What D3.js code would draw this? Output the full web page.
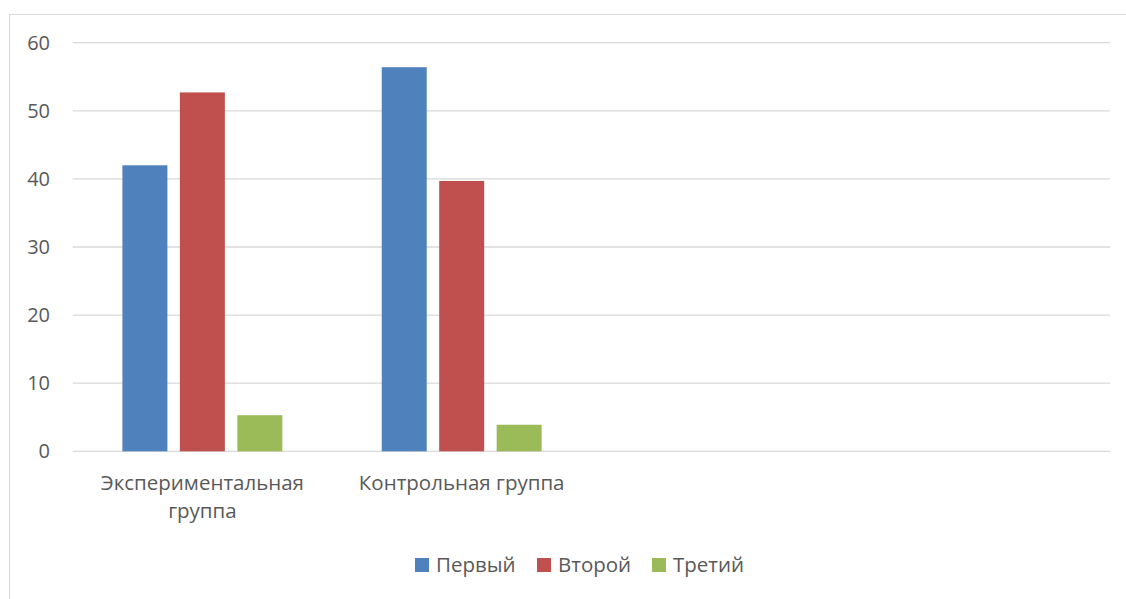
<!DOCTYPE html>
<html>
<head>
<meta charset="utf-8">
<script src="https://cdn.jsdelivr.net/npm/d3@7"></script>
<style>
  body { margin: 0; background: #fff; }
  text { font-family: "Open Sans", "DejaVu Sans", sans-serif; fill: #595959; }
</style>
</head>
<body>
<script>
// chart data
const categories = ["Экспериментальная группа", "Контрольная группа", "", " "];
const seriesNames = ["Первый", "Второй", "Третий"];
const firstValues = [42.0, 56.4];
const secondValues = [52.7, 39.7];
const thirdValues = [5.3, 3.9];
const yTicks = [0, 10, 20, 30, 40, 50, 60];
const colors = ["#4F81BD", "#C0504D", "#9BBB59"];

let width = 1126;
let height = 599;
let svg = d3.select("body").append("svg")
            .attr("width", width)
            .attr("height", height);

// outer chart frame
svg.append("rect")
   .attr("x", 9.5).attr("y", 14.5)
   .attr("width", 1130).attr("height", 600)
   .attr("fill", "#fff")
   .attr("stroke", "#d9d9d9");

let margin = {left: 72.7, right: 1110, top: 42.7, bottom: 451.3};

let x = d3.scaleBand()
          .domain(categories)
          .range([margin.left, margin.right]);

let y = d3.scaleLinear()
          .domain([0, 60])
          .range([margin.bottom, margin.top]);

// gridlines
svg.append("g").selectAll("line")
   .data(yTicks)
   .enter().append("line")
   .attr("x1", margin.left).attr("x2", margin.right)
   .attr("y1", d => y(d)).attr("y2", d => y(d))
   .attr("stroke", "#d9d9d9")
   .attr("stroke-width", 1.3);

// y tick labels
svg.append("g").selectAll("text")
   .data(yTicks)
   .enter().append("text")
   .attr("x", 50)
   .attr("y", d => y(d))
   .attr("dy", "0.35em")
   .attr("text-anchor", "end")
   .attr("font-size", 20)
   .text(d => d);

// bars
let series = [firstValues, secondValues, thirdValues];
let inner = d3.scaleBand()
              .domain(d3.range(series.length))
              .range([0, x.bandwidth()])
              .paddingInner(0.217)
              .paddingOuter(0.865);

let rows = [];
series.forEach((vals, s) => {
  vals.forEach((v, i) => rows.push({cat: categories[i], s: s, v: v}));
});

svg.append("g").selectAll("rect")
   .data(rows)
   .enter().append("rect")
   .attr("x", d => x(d.cat) + inner(d.s))
   .attr("width", inner.bandwidth())
   .attr("y", d => y(d.v))
   .attr("height", d => y(0) - y(d.v))
   .attr("fill", d => colors[d.s]);

// category labels (wrap long ones)
let catLabels = svg.append("g").selectAll("text")
   .data(categories.filter(c => c.trim() !== ""))
   .enter().append("text")
   .attr("text-anchor", "middle")
   .attr("font-size", 20.5)
   .attr("x", d => x(d) + x.bandwidth() / 2)
   .attr("y", 490);

catLabels.each(function(d) {
  let t = d3.select(this);
  let lines = d.length > 20 ? d.split(" ") : [d];
  lines.forEach((ln, i) => {
    t.append("tspan")
     .attr("x", x(d) + x.bandwidth() / 2)
     .attr("dy", i === 0 ? 0 : 28)
     .text(ln);
  });
});

// legend
let legendX = [415, 537, 652];
let legend = svg.append("g").selectAll("g")
   .data(seriesNames)
   .enter().append("g")
   .attr("transform", (d, i) => `translate(${legendX[i]},558)`);

legend.append("rect")
      .attr("width", 14).attr("height", 14)
      .attr("fill", (d, i) => colors[i]);

legend.append("text")
      .attr("x", 21).attr("y", 7)
      .attr("dy", "0.35em")
      .attr("font-size", 20.5)
      .text(d => d);
</script>
</body>
</html>
